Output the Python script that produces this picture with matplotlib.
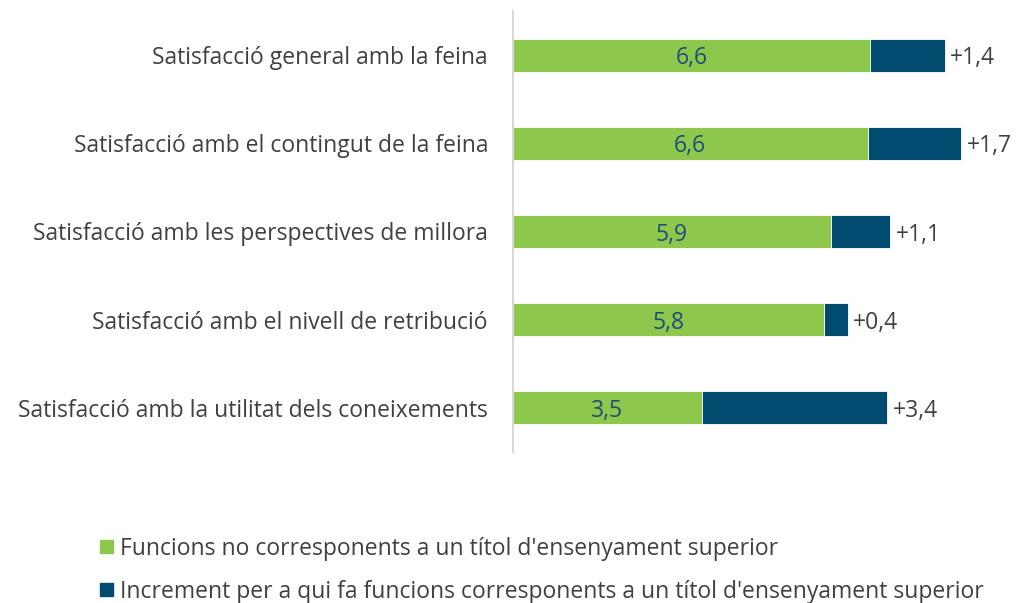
import matplotlib
matplotlib.use("Agg")
import matplotlib.pyplot as plt
from matplotlib.patches import Rectangle

categories = [
    "Satisfacció general amb la feina",
    "Satisfacció amb el contingut de la feina",
    "Satisfacció amb les perspectives de millora",
    "Satisfacció amb el nivell de retribució",
    "Satisfacció amb la utilitat dels coneixements",
]
base_values = [6.59, 6.54, 5.86, 5.73, 3.48]
base_labels = ["6,6", "6,6", "5,9", "5,8", "3,5"]
increment_values = [1.37, 1.73, 1.10, 0.44, 3.42]
increment_labels = ["+1,4", "+1,7", "+1,1", "+0,4", "+3,4"]
series_names = [
    "Funcions no corresponents a un títol d'ensenyament superior",
    "Increment per a qui fa funcions corresponents a un títol d'ensenyament superior",
]

GREEN = "#8DC84D"
NAVY = "#004C70"
TEXT = "#404040"
VAL = "#1F4E79"
FS = 16.5

plt.rcParams['font.family'] = ['Open Sans', 'DejaVu Sans']

fig = plt.figure(figsize=(10.16, 6.03), dpi=100)
ax = fig.add_axes([513/1016, 1-452/603, 488/1016, 441/603])

y = list(range(len(categories)))
h = 0.375
ax.barh(y, base_values, height=h, color=GREEN, edgecolor="white", linewidth=0.6)
ax.barh(y, increment_values, left=base_values, height=h, color=NAVY, edgecolor="white", linewidth=0.6)

for i in y:
    ax.text(base_values[i] / 2, i, base_labels[i], ha="center", va="center_baseline",
            fontsize=FS, color=VAL)
    ax.text(base_values[i] + increment_values[i] + 0.1, i, increment_labels[i],
            ha="left", va="center_baseline", fontsize=FS, color=TEXT)

ax.set_xlim(0, 9)
ax.set_ylim(len(categories) - 0.5, -0.5)
ax.set_yticks(y)
ax.set_yticklabels(categories, fontsize=FS, color=TEXT, va="center_baseline")
ax.tick_params(axis="y", length=0, pad=18)
ax.set_xticks([])
for s in ["top", "right", "bottom"]:
    ax.spines[s].set_visible(False)
ax.spines["left"].set_color("#D9D9D9")
ax.spines["left"].set_linewidth(1.5)

# legend
for k, (name, col) in enumerate(zip(series_names, [GREEN, NAVY])):
    yy = 546 + k * 43
    yf = 1 - yy / 603
    fig.patches.append(Rectangle((100/1016, yf - 6.5/603), 13/1016, 13/603,
                                 transform=fig.transFigure, color=col))
    fig.text(120/1016, yf, name, ha="left", va="center_baseline", fontsize=FS, color=TEXT)

fig.savefig("out.png", dpi=100)
